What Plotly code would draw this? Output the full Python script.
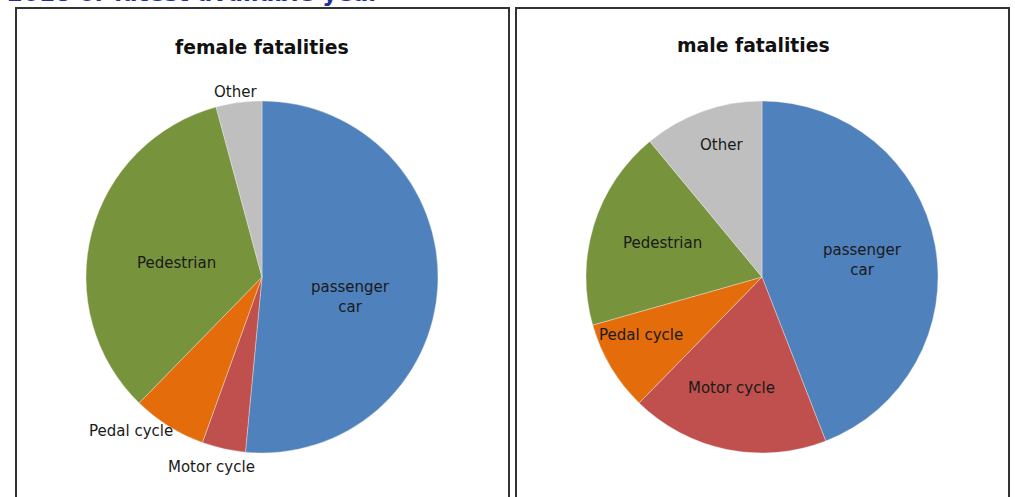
import plotly.graph_objects as go

categories = ["passenger car", "Motor cycle", "Pedal cycle", "Pedestrian", "Other"]
female_share = [51.5, 4.0, 6.8, 33.5, 4.2]
male_share = [44.1, 18.2, 8.3, 18.4, 11.0]
colors = ["#4F81BD", "#C0504D", "#E46C0A", "#77933C", "#BFBFBF"]

W, H = 1015, 497

def px(x):
    return x / W

def py(y):
    return 1 - y / H

fig = go.Figure()
fig.add_trace(go.Pie(
    labels=categories, values=female_share, sort=False, direction="clockwise",
    rotation=0, textinfo="none", hoverinfo="label+percent",
    marker=dict(colors=colors, line=dict(color="#eeeeee", width=0.4)),
    domain=dict(x=[px(86), px(438)], y=[py(453), py(101)]),
    showlegend=False,
))
fig.add_trace(go.Pie(
    labels=categories, values=male_share, sort=False, direction="clockwise",
    rotation=0, textinfo="none", hoverinfo="label+percent",
    marker=dict(colors=colors, line=dict(color="#eeeeee", width=0.4)),
    domain=dict(x=[px(586), px(938)], y=[py(453), py(101)]),
    showlegend=False,
))

label_font = dict(family="DejaVu Sans", size=15, color="#1a1a1a")
title_font = dict(family="DejaVu Sans", size=18.8, color="#111111")

# label placements (pixel centres)
female_label_pos = {
    "passenger car": (350, 297),
    "Motor cycle": (211, 467),
    "Pedal cycle": (131, 431),
    "Pedestrian": (176, 263),
    "Other": (235, 92),
}
male_label_pos = {
    "passenger car": (862, 260),
    "Motor cycle": (731, 388),
    "Pedal cycle": (641, 335),
    "Pedestrian": (662, 243),
    "Other": (721, 145),
}

annotations = []
for pos in (female_label_pos, male_label_pos):
    for cat in categories:
        x, y = pos[cat]
        text = cat.replace("passenger car", "passenger<br>car")
        annotations.append(dict(
            x=px(x), y=py(y), xref="paper", yref="paper", text=text,
            showarrow=False, font=label_font, xanchor="center", yanchor="middle",
        ))

annotations.append(dict(x=px(262), y=py(48), xref="paper", yref="paper",
                        text="<b>female fatalities</b>", showarrow=False,
                        font=title_font, xanchor="center", yanchor="middle"))
annotations.append(dict(x=px(753), y=py(46), xref="paper", yref="paper",
                        text="<b>male fatalities</b>", showarrow=False,
                        font=title_font, xanchor="center", yanchor="middle"))
annotations.append(dict(x=px(5), y=py(7.5), xref="paper", yref="paper",
                        text="<b>2018 or latest available year</b>", showarrow=False,
                        font=dict(family="DejaVu Sans", size=23, color="#1F2FA0"),
                        xanchor="left", yanchor="bottom"))

shapes = [
    dict(type="rect", xref="paper", yref="paper", x0=px(16), x1=px(509),
         y0=-0.05, y1=py(8), line=dict(color="#333333", width=2), layer="above"),
    dict(type="rect", xref="paper", yref="paper", x0=px(516), x1=px(1009),
         y0=-0.05, y1=py(8), line=dict(color="#333333", width=2), layer="above"),
]

fig.update_layout(
    width=W, height=H, margin=dict(l=0, r=0, t=0, b=0),
    paper_bgcolor="white", plot_bgcolor="white",
    annotations=annotations, shapes=shapes,
)

fig.write_html("out.html", config={"displayModeBar": False},
               post_script="document.body.style.margin='0';document.body.style.overflow='hidden';")
